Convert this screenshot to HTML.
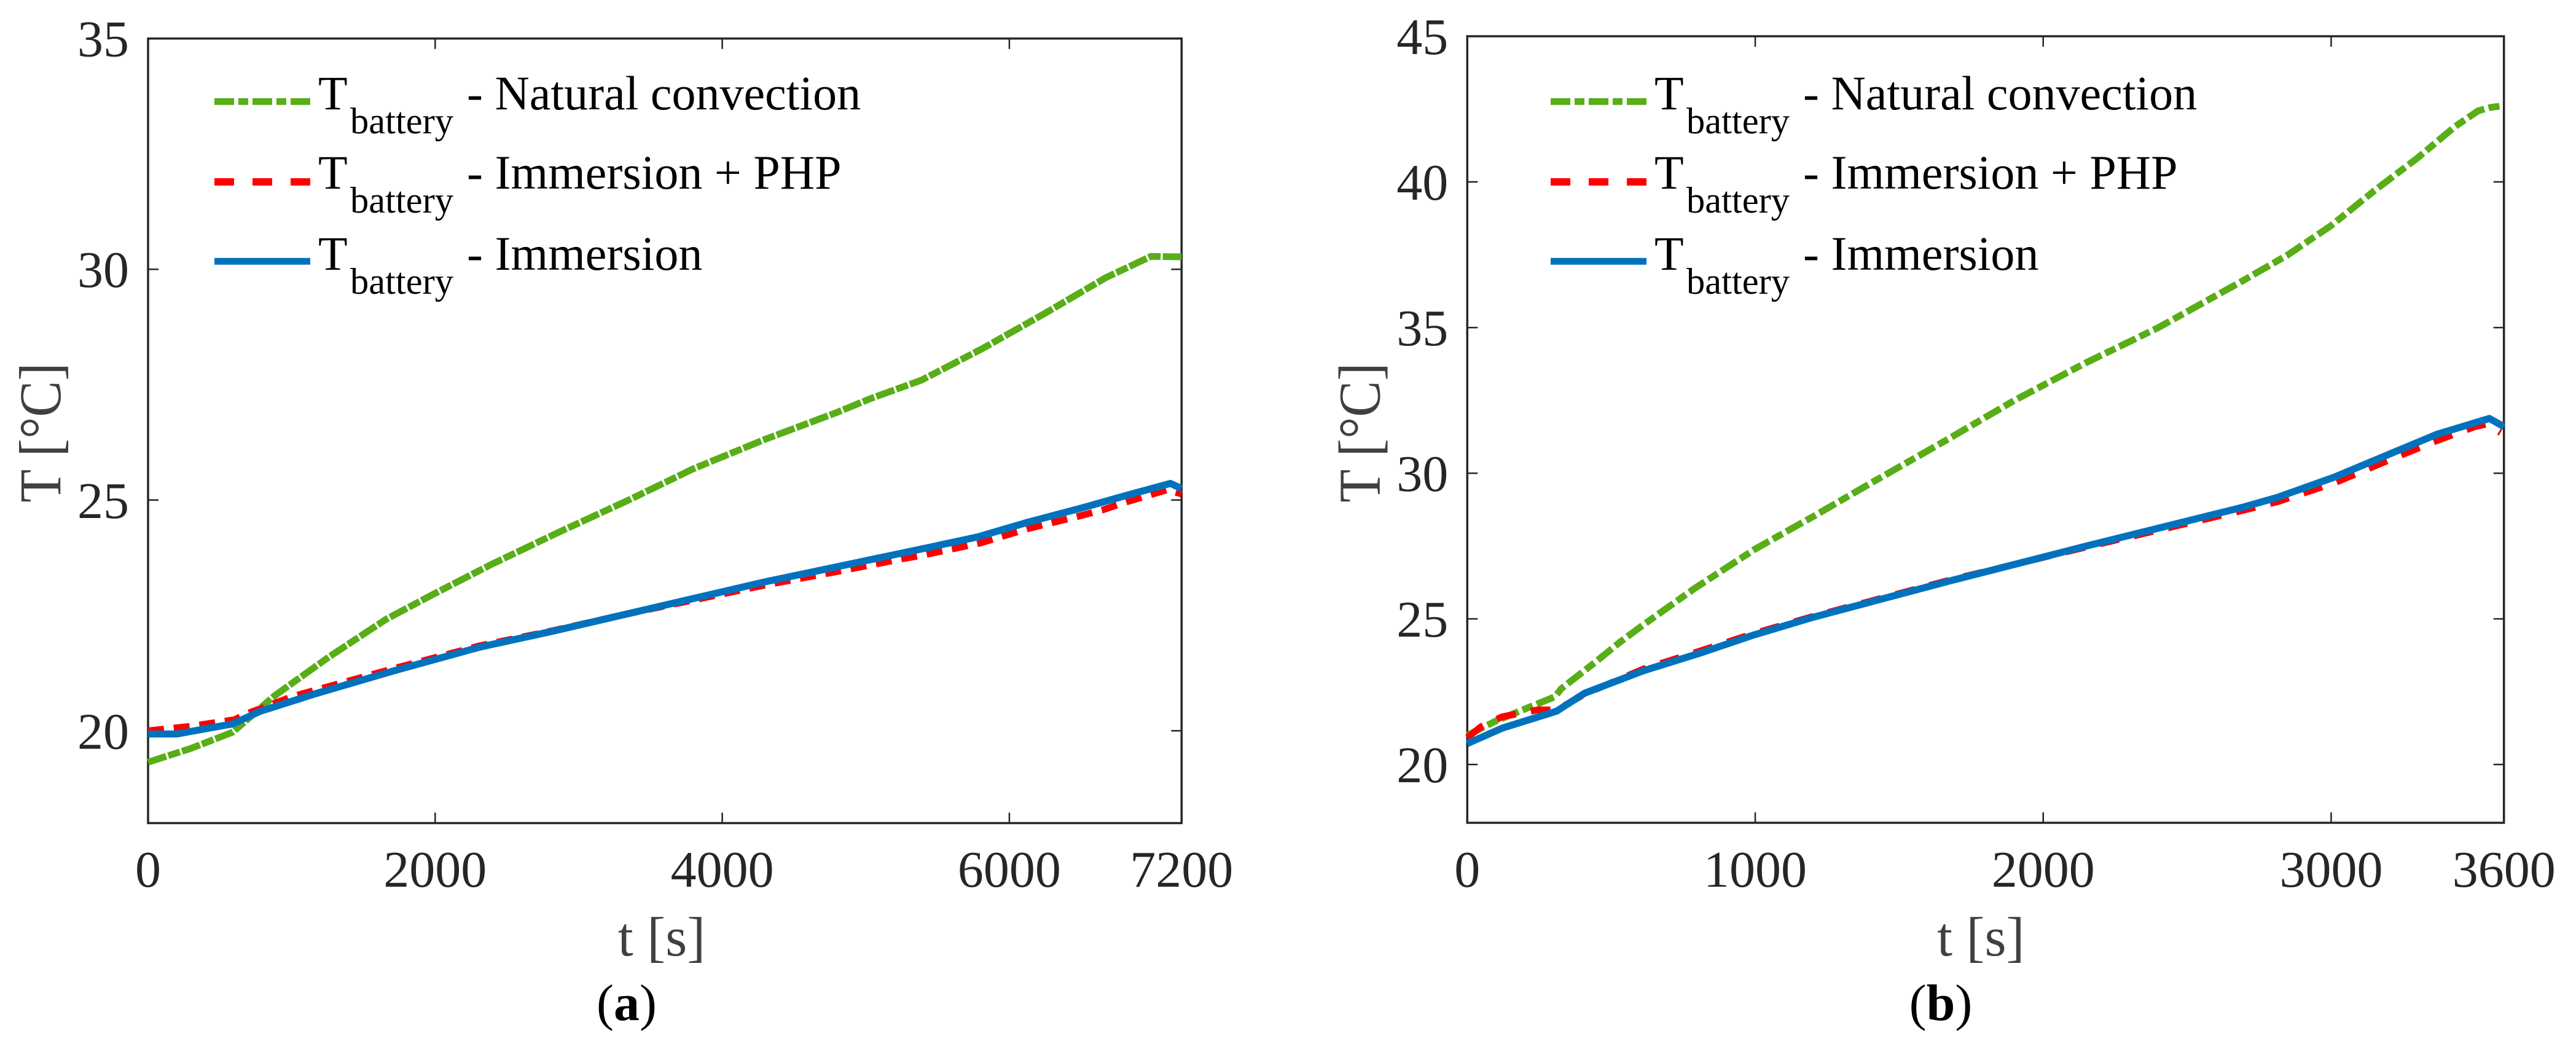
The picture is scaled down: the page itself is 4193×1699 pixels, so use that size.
<!DOCTYPE html>
<html lang="en">
<head>
<meta charset="utf-8">
<title>Battery temperature comparison</title>
<style>
  html, body { margin: 0; padding: 0; background: #fff; }
  svg { display: block; font-family: "Liberation Serif", serif; }
</style>
</head>
<body>
<svg id="figure" xmlns="http://www.w3.org/2000/svg" width="4193" height="1699" viewBox="0 0 4193 1699">
  <rect width="4193" height="1699" fill="#fff"/>
  <g id="panel-a"></g>
  <g id="panel-b"></g>
</svg>
<script>
// ---- Panel (a) data: 7200 s run ----
const ticksXA = [0, 2000, 4000, 6000, 7200];
const ticksYA = [20, 25, 30, 35];
const timeNaturalA = [0, 300, 590, 877, 1260, 1660, 2000, 2394, 2860, 3348, 3800, 4302, 4800, 5035, 5389, 5817, 6245, 6673, 6987, 7200];
const tempNaturalA = [19.32, 19.62, 19.97, 20.75, 21.6, 22.42, 22.98, 23.61, 24.3, 25.0, 25.68, 26.32, 26.9, 27.2, 27.6, 28.29, 29.04, 29.82, 30.28, 30.27];
const timePhpA = [0, 300, 600, 704, 1012, 1736, 2308, 2821, 3348, 4302, 4800, 5262, 5389, 5800, 6130, 6459, 6645, 6816, 7000, 7100, 7200];
const tempPhpA = [20.0, 20.1, 20.24, 20.39, 20.75, 21.37, 21.84, 22.17, 22.54, 23.16, 23.45, 23.73, 23.8, 24.07, 24.38, 24.63, 24.78, 24.96, 25.13, 25.22, 25.13];
const timeImmersionA = [0, 200, 590, 780, 1163, 1736, 2308, 2821, 3348, 4302, 5389, 5780, 6130, 6530, 6816, 7122, 7200];
const tempImmersionA = [19.93, 19.93, 20.15, 20.42, 20.8, 21.32, 21.81, 22.16, 22.54, 23.23, 23.94, 24.2, 24.52, 24.85, 25.1, 25.36, 25.25];

// ---- Panel (b) data: 3600 s run ----
const ticksXB = [0, 1000, 2000, 3000, 3600];
const ticksYB = [20, 25, 30, 35, 40, 45];
const timeNaturalB = [0, 100, 305, 326, 449, 530, 612, 790, 1000, 1199, 1400, 1675, 1900, 2150, 2400, 2692, 2850, 3000, 3150, 3297, 3430, 3510, 3550, 3586];
const tempNaturalB = [21.0, 21.5, 22.33, 22.6, 23.55, 24.2, 24.8, 26.05, 27.4, 28.5, 29.65, 31.2, 32.5, 33.8, 35.0, 36.6, 37.5, 38.5, 39.7, 40.8, 41.9, 42.44, 42.55, 42.6];
const timePhpB = [0, 48, 122, 245, 310, 408, 612, 816, 996, 1199, 1675, 2150, 2692, 2813, 3012, 3225, 3368, 3500, 3537, 3588];
const tempPhpB = [20.93, 21.3, 21.64, 21.88, 21.87, 22.42, 23.28, 23.92, 24.5, 25.08, 26.33, 27.47, 28.72, 29.02, 29.67, 30.55, 31.12, 31.6, 31.68, 31.39];
const timeImmersionB = [0, 122, 310, 408, 612, 816, 996, 1199, 1675, 2150, 2692, 2813, 3012, 3225, 3368, 3549, 3600];
const tempImmersionB = [20.72, 21.25, 21.83, 22.45, 23.22, 23.85, 24.45, 25.05, 26.3, 27.5, 28.83, 29.17, 29.87, 30.75, 31.34, 31.88, 31.6];

// ---- Shared labels ----
const legendLabels = ['- Natural convection', '- Immersion + PHP', '- Immersion'];

const NS = 'http://www.w3.org/2000/svg';
const AXIS_COLOR = '#262626';

function mk(parent, tag, attrs, text) {
  const el = document.createElementNS(NS, tag);
  for (const k in attrs) el.setAttribute(k, attrs[k]);
  if (text !== undefined) el.textContent = text;
  parent.appendChild(el);
  return el;
}

function linearScale(d0, d1, r0, r1) {
  return function (v) { return r0 + (v - d0) * (r1 - r0) / (d1 - d0); };
}

function drawSeries(g, sx, sy, times, temps, color, width, dash, name) {
  const pts = times.map(function (t, i) { return sx(t).toFixed(1) + ',' + sy(temps[i]).toFixed(1); }).join(' ');
  const attrs = { points: pts, fill: 'none', stroke: color, 'stroke-width': width, 'stroke-linejoin': 'round' };
  if (dash) attrs['stroke-dasharray'] = dash;
  const el = mk(g, 'polyline', attrs);
  
  
}

function drawPanel(cfg) {
  const g = document.getElementById(cfg.id);
  const sx = linearScale(cfg.xMin, cfg.xMax, cfg.left, cfg.right);
  const sy = linearScale(cfg.yMin, cfg.yMax, cfg.bottom, cfg.top);

  const box = mk(g, 'rect', { x: cfg.left, y: cfg.top, width: cfg.right - cfg.left, height: cfg.bottom - cfg.top, fill: 'none', stroke: AXIS_COLOR, 'stroke-width': 3.5 });
  
  

  cfg.ticksX.forEach(function (v) {
    const x = sx(v);
    const bottomTick = mk(g, 'line', { x1: x, x2: x, y1: cfg.bottom, y2: cfg.bottom - 17, stroke: AXIS_COLOR, 'stroke-width': 2.5 });
    
    
    const topTick = mk(g, 'line', { x1: x, x2: x, y1: cfg.top, y2: cfg.top + 17, stroke: AXIS_COLOR, 'stroke-width': 2.5 });
    
    
    const label = mk(g, 'text', { x: x, y: 1443, 'font-size': 84, 'text-anchor': 'middle', fill: AXIS_COLOR }, String(v));
    
    
  });

  cfg.ticksY.forEach(function (v) {
    const y = sy(v);
    const leftTick = mk(g, 'line', { x1: cfg.left, x2: cfg.left + 17, y1: y, y2: y, stroke: AXIS_COLOR, 'stroke-width': 2.5 });
    
    
    const rightTick = mk(g, 'line', { x1: cfg.right, x2: cfg.right - 17, y1: y, y2: y, stroke: AXIS_COLOR, 'stroke-width': 2.5 });
    
    
    const label = mk(g, 'text', { x: cfg.left - 31, y: y + 29, 'font-size': 84, 'text-anchor': 'end', fill: AXIS_COLOR }, String(v));
    
    
  });

  const xTitle = mk(g, 'text', { x: cfg.left + 836, y: 1555, 'font-size': 90, 'text-anchor': 'middle', fill: '#404040' }, 't [s]');
  
  

  const yTitle = mk(g, 'text', { x: 0, y: 0, 'font-size': 96, 'text-anchor': 'middle', fill: '#404040', transform: 'translate(' + (cfg.left - 143) + ',704) rotate(-90) scale(0.92,1)' }, 'T [°C]');
  
  

  drawSeries(g, sx, sy, cfg.natural[0], cfg.natural[1], '#58ae16', 11, cfg.dashNatural, 'series-natural-convection');
  drawSeries(g, sx, sy, cfg.php[0], cfg.php[1], '#ff0000', 11, cfg.dashPhp, 'series-immersion-php');
  drawSeries(g, sx, sy, cfg.immersion[0], cfg.immersion[1], '#0072bd', 11.5, null, 'series-immersion');

  // Legend
  const lx0 = cfg.legendX, lx1 = cfg.legendX + 156;
  const rows = [
    { y: 165.3, base: 178, color: '#58ae16', w: 11, dash: '32 7 16 7' },
    { y: 296, base: 307, color: '#ff0000', w: 12, dash: '32 30' },
    { y: 425.3, base: 439, color: '#0072bd', w: 11, dash: null }
  ];
  rows.forEach(function (r, i) {
    const attrs = { x1: lx0, x2: lx1, y1: r.y, y2: r.y, stroke: r.color, 'stroke-width': r.w };
    if (r.dash) attrs['stroke-dasharray'] = r.dash;
    const swatch = mk(g, 'line', attrs);
    
    

    const sym = mk(g, 'text', { x: lx0 + 169, y: r.base, 'font-size': 78, fill: '#000' }, 'T');
    
    
    const sub = mk(g, 'text', { x: lx0 + 221, y: r.base + 39, 'font-size': 60.5, fill: '#000' }, 'battery');
    
    
    const lab = mk(g, 'text', { x: lx0 + 411, y: r.base, 'font-size': 78, fill: '#000' }, legendLabels[i]);
    
    
  });

  // Caption
  const cap = mk(g, 'text', { x: cfg.captionX, y: 1660, 'font-size': 84, 'text-anchor': 'middle', fill: '#000' });
  
  
  mk(cap, 'tspan', {}, '(');
  mk(cap, 'tspan', { 'font-weight': 'bold' }, cfg.captionLetter);
  mk(cap, 'tspan', {}, ')');
}

drawPanel({
  id: 'panel-a', left: 241, right: 1923.3, top: 62.7, bottom: 1339.5,
  xMin: 0, xMax: 7200, yMin: 18, yMax: 35,
  ticksX: ticksXA, ticksY: ticksYA,
  natural: [timeNaturalA, tempNaturalA],
  php: [timePhpA, tempPhpA],
  immersion: [timeImmersionA, tempImmersionA],
  dashNatural: '31 3.5 20 3.5', dashPhp: '26 16',
  legendX: 349, captionX: 1020, captionLetter: 'a'
});

drawPanel({
  id: 'panel-b', left: 2388.3, right: 4075.7, top: 59, bottom: 1339,
  xMin: 0, xMax: 3600, yMin: 18, yMax: 45,
  ticksX: ticksXB, ticksY: ticksYB,
  natural: [timeNaturalB, tempNaturalB],
  php: [timePhpB, tempPhpB],
  immersion: [timeImmersionB, tempImmersionB],
  dashNatural: '30 7 18 7', dashPhp: '32 25',
  legendX: 2524, captionX: 3159, captionLetter: 'b'
});
</script>
</body>
</html>
